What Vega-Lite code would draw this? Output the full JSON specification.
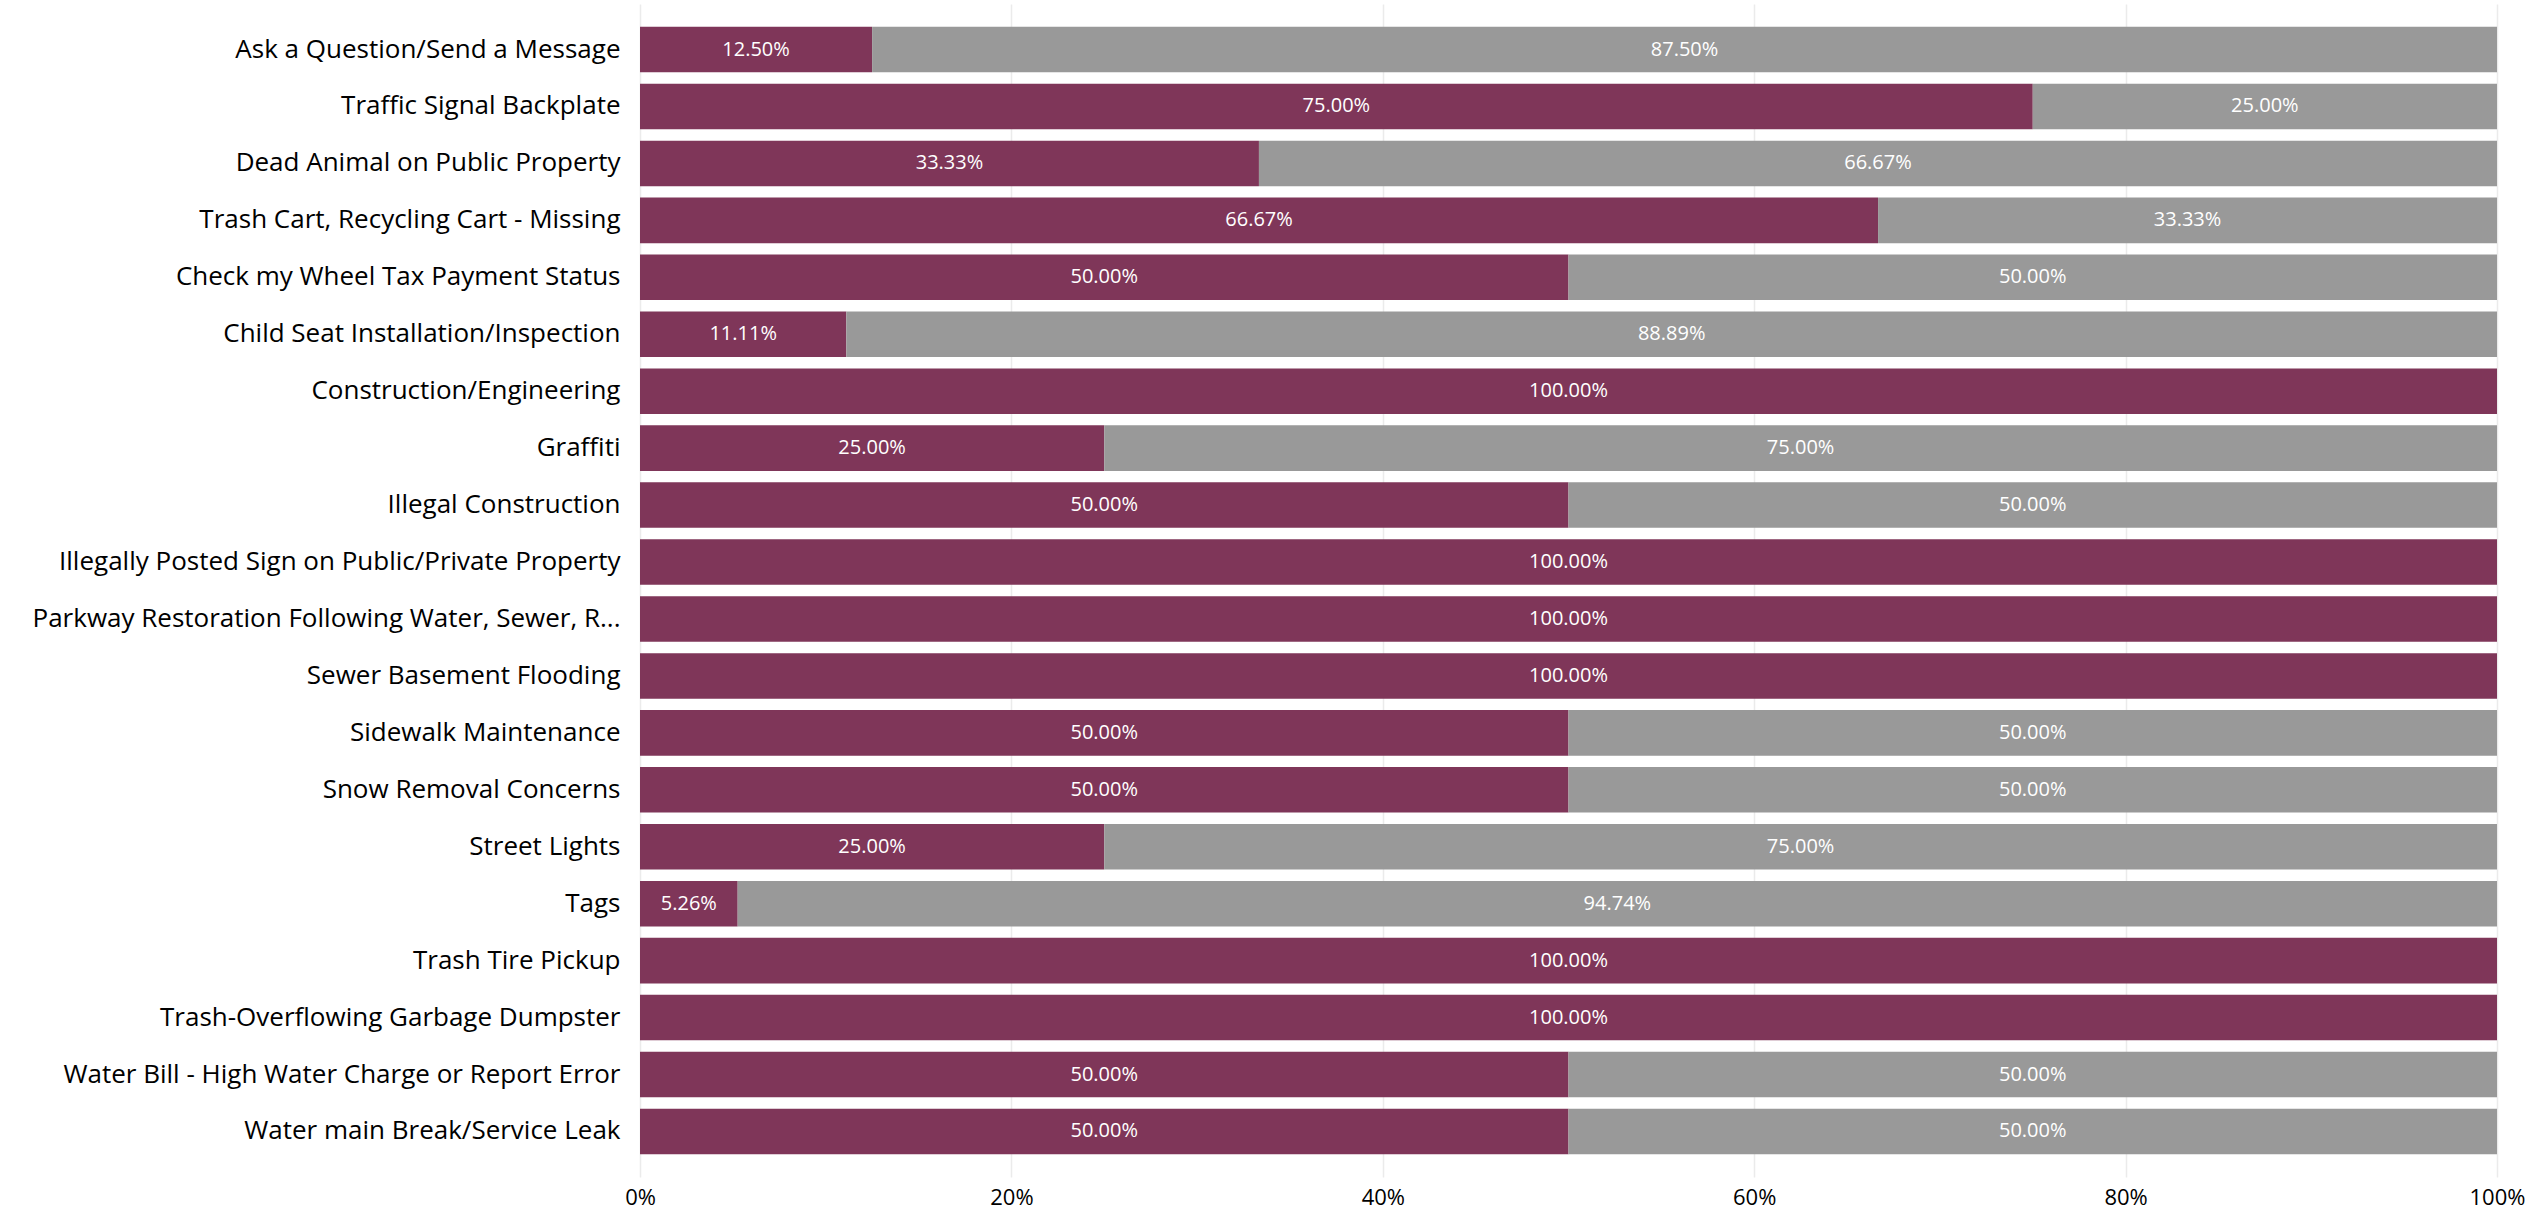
{
  "$schema": "https://vega.github.io/schema/vega-lite/v6.json",
  "width": 1857,
  "height": 1173,
  "autosize": "none",
  "padding": {"left": 640, "top": 4, "right": 34, "bottom": 34},
  "background": "white",
  "config": {
    "view": {"stroke": null},
    "font": "Open Sans"
  },
  "data": {
    "values": [
      {"category": "Ask a Question/Send a Message", "status": "Met", "share": 0.125},
      {"category": "Ask a Question/Send a Message", "status": "Not Met", "share": 0.875},
      {"category": "Traffic Signal Backplate", "status": "Met", "share": 0.75},
      {"category": "Traffic Signal Backplate", "status": "Not Met", "share": 0.25},
      {"category": "Dead Animal on Public Property", "status": "Met", "share": 0.3333},
      {"category": "Dead Animal on Public Property", "status": "Not Met", "share": 0.6667},
      {"category": "Trash Cart, Recycling Cart - Missing", "status": "Met", "share": 0.6667},
      {"category": "Trash Cart, Recycling Cart - Missing", "status": "Not Met", "share": 0.3333},
      {"category": "Check my Wheel Tax Payment Status", "status": "Met", "share": 0.5},
      {"category": "Check my Wheel Tax Payment Status", "status": "Not Met", "share": 0.5},
      {"category": "Child Seat Installation/Inspection", "status": "Met", "share": 0.1111},
      {"category": "Child Seat Installation/Inspection", "status": "Not Met", "share": 0.8889},
      {"category": "Construction/Engineering", "status": "Met", "share": 1.0},
      {"category": "Graffiti", "status": "Met", "share": 0.25},
      {"category": "Graffiti", "status": "Not Met", "share": 0.75},
      {"category": "Illegal Construction", "status": "Met", "share": 0.5},
      {"category": "Illegal Construction", "status": "Not Met", "share": 0.5},
      {"category": "Illegally Posted Sign on Public/Private Property", "status": "Met", "share": 1.0},
      {"category": "Parkway Restoration Following Water, Sewer, R...", "status": "Met", "share": 1.0},
      {"category": "Sewer Basement Flooding", "status": "Met", "share": 1.0},
      {"category": "Sidewalk Maintenance", "status": "Met", "share": 0.5},
      {"category": "Sidewalk Maintenance", "status": "Not Met", "share": 0.5},
      {"category": "Snow Removal Concerns", "status": "Met", "share": 0.5},
      {"category": "Snow Removal Concerns", "status": "Not Met", "share": 0.5},
      {"category": "Street Lights", "status": "Met", "share": 0.25},
      {"category": "Street Lights", "status": "Not Met", "share": 0.75},
      {"category": "Tags", "status": "Met", "share": 0.0526},
      {"category": "Tags", "status": "Not Met", "share": 0.9474},
      {"category": "Trash Tire Pickup", "status": "Met", "share": 1.0},
      {"category": "Trash-Overflowing Garbage Dumpster", "status": "Met", "share": 1.0},
      {"category": "Water Bill - High Water Charge or Report Error", "status": "Met", "share": 0.5},
      {"category": "Water Bill - High Water Charge or Report Error", "status": "Not Met", "share": 0.5},
      {"category": "Water main Break/Service Leak", "status": "Met", "share": 0.5},
      {"category": "Water main Break/Service Leak", "status": "Not Met", "share": 0.5}
    ]
  },
  "transform": [
    {"stack": "share", "groupby": ["category"], "sort": [{"field": "status", "order": "ascending"}], "as": ["x0", "x1"]},
    {"calculate": "(datum.x0 + datum.x1) / 2", "as": "xmid"}
  ],
  "encoding": {
    "y": {
      "field": "category",
      "type": "nominal",
      "sort": null,
      "scale": {"paddingInner": 0.2, "paddingOuter": 0.4},
      "axis": {
        "title": null,
        "domain": false,
        "ticks": false,
        "grid": false,
        "labelFontSize": 26,
        "labelColor": "#000000",
        "labelPadding": 20,
        "labelLimit": 700
      }
    }
  },
  "layer": [
    {
      "mark": {"type": "bar"},
      "encoding": {
        "x": {
          "field": "x0",
          "type": "quantitative",
          "scale": {"domain": [0, 1], "nice": false},
          "axis": {
            "title": null,
            "format": ".0%",
            "values": [0, 0.2, 0.4, 0.6, 0.8, 1],
            "domain": false,
            "ticks": false,
            "grid": true,
            "gridColor": "#ebebeb",
            "gridWidth": 1.5,
            "labelFontSize": 22,
            "labelColor": "#000000",
            "labelPadding": 10,
            "labelFlush": false
          }
        },
        "x2": {"field": "x1"},
        "color": {
          "field": "status",
          "type": "nominal",
          "scale": {"domain": ["Met", "Not Met"], "range": ["#7f3659", "#999999"]},
          "legend": null
        }
      }
    },
    {
      "mark": {"type": "text", "color": "white", "fontSize": 20, "baseline": "middle", "align": "center"},
      "encoding": {
        "x": {"field": "xmid", "type": "quantitative"},
        "text": {"field": "share", "type": "quantitative", "format": ".2%"}
      }
    }
  ]
}
